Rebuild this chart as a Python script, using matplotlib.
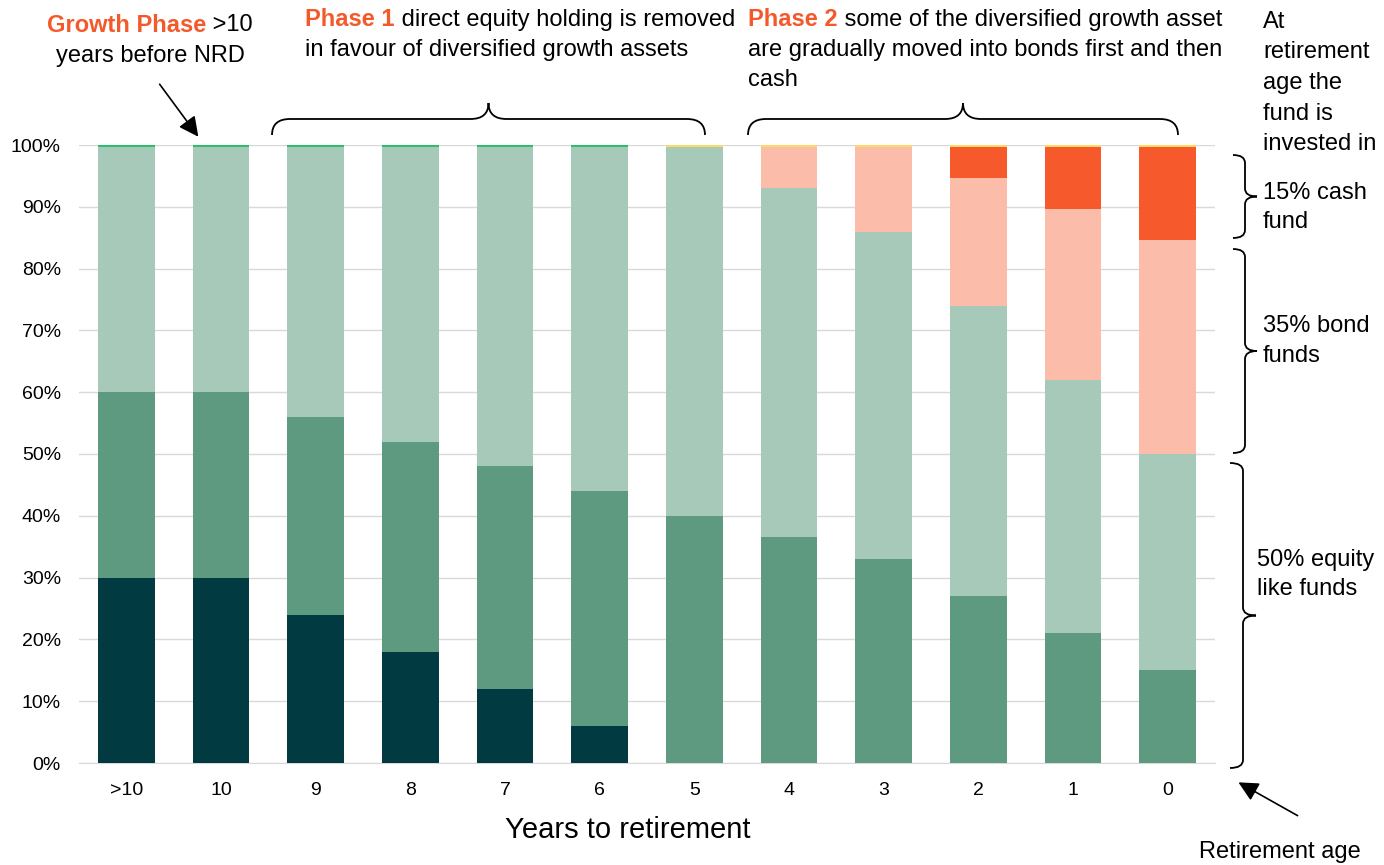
import matplotlib.pyplot as plt
from matplotlib.path import Path
from matplotlib.patches import PathPatch
import numpy as np

plt.rcParams['font.family'] = ['Liberation Sans', 'DejaVu Sans']

# data (percent of fund)
years = ['>10', '10', '9', '8', '7', '6', '5', '4', '3', '2', '1', '0']
direct_equity = [30, 30, 24, 18, 12, 6, 0, 0, 0, 0, 0, 0]
growth_a = [30, 30, 32, 34, 36, 38, 40, 36.5, 33, 27, 21, 15]
growth_b = [39.7, 39.7, 43.7, 47.7, 51.7, 55.7, 59.7, 56.5, 53, 47, 41, 35]
bonds = [0, 0, 0, 0, 0, 0, 0, 6.7, 13.7, 20.7, 27.7, 34.7]
cash = [0, 0, 0, 0, 0, 0, 0, 0, 0, 5, 10, 15]
other_green = [0.3, 0.3, 0.3, 0.3, 0.3, 0.3, 0, 0, 0, 0, 0, 0]
other_yellow = [0, 0, 0, 0, 0, 0, 0.3, 0.3, 0.3, 0.3, 0.3, 0.3]

series = [direct_equity, growth_a, growth_b, bonds, cash, other_green, other_yellow]
colors = ['#023A41', '#5E9A7F', '#A7C9BA', '#FBBDAA', '#F65A2C', '#2DBE6C', '#FFD966']

ORANGE = '#F4592B'
W, H = 1384, 865
FS = 17

fig = plt.figure(figsize=(13.84, 8.65), dpi=100)
ax = fig.add_axes([79 / W, 1 - 763 / H, (1215 - 79) / W, (763 - 145) / H])

x = np.arange(len(years))
bottom = np.zeros(len(years))
for vals, c in zip(series, colors):
    ax.bar(x, vals, width=0.6, bottom=bottom, color=c, zorder=3)
    bottom += np.array(vals)

ax.set_xlim(-0.5, len(years) - 0.5)
ax.set_ylim(0, 100)
ax.set_yticks(np.arange(0, 101, 10))
ax.set_yticklabels([f'{v}%' for v in range(0, 101, 10)])
ax.set_xticks(x)
ax.set_xticklabels(years)
ax.tick_params(length=0, labelsize=14)
ax.tick_params(axis='x', pad=14)
ax.tick_params(axis='y', pad=13)
ax.grid(axis='y', color='#D9D9D9', lw=1, zorder=0)
for s in ['top', 'right', 'left']:
    ax.spines[s].set_visible(False)
ax.spines['bottom'].set_color('#D9D9D9')
ax.set_xlabel('Years to retirement', fontsize=21)
ax.xaxis.set_label_coords((628 - 79) / (1215 - 79), -(830 - 763) / (763 - 145))
ax.xaxis.label.set_va('center')


def px(xp, yp):
    return xp / W, 1 - yp / H


renderer = fig.canvas.get_renderer()


def rich_line(parts, xp, yp, ha='left', size=FS):
    # parts: list of (text, bold?) drawn one after another on the same baseline
    texts = []
    cur = xp
    for s, bold in parts:
        t = fig.text(*px(cur, yp), s, fontsize=size, va='center',
                     fontweight='bold' if bold else 'normal',
                     color=ORANGE if bold else 'black')
        w = t.get_window_extent(renderer).width
        texts.append((t, cur))
        cur += w
    if ha == 'center':
        shift = (cur - xp) / 2
        for t, c0 in texts:
            t.set_position(px(c0 - shift, yp))


rich_line([('Growth Phase', True), (' >10', False)], 150, 25, ha='center')
rich_line([('years before NRD', False)], 150, 56, ha='center')
rich_line([('Phase 1', True), (' direct equity holding is removed', False)], 305, 20)
rich_line([('in favour of diversified growth assets', False)], 305, 50)
rich_line([('Phase 2', True), (' some of the diversified growth asset', False)], 748, 20)
rich_line([('are gradually moved into bonds first and then', False)], 748, 50)
rich_line([('cash', False)], 748, 80)
for i, s in enumerate(['At', 'retirement', 'age the', 'fund is', 'invested in']):
    rich_line([(s, False)], 1263, 22 + 30.5 * i)
rich_line([('15% cash', False)], 1263, 193)
rich_line([('fund', False)], 1263, 222)
rich_line([('35% bond', False)], 1263, 326)
rich_line([('funds', False)], 1263, 356)
rich_line([('50% equity', False)], 1257, 560)
rich_line([('like funds', False)], 1257, 589)
rich_line([('Retirement age', False)], 1280, 852, ha='center')


def brace(p0, p1, a, r, normal):
    # curly brace from p0 to p1 (pixel coords), tip pointing along normal
    p0 = np.array(p0, float)
    p1 = np.array(p1, float)
    L = np.linalg.norm(p1 - p0)
    u = (p1 - p0) / L
    n = np.array(normal, float)
    loc = [(0, 0), (0, a), (r, a), (L / 2 - r, a), (L / 2, a), (L / 2, 2 * a),
           (L / 2, a), (L / 2 + r, a), (L - r, a), (L, a), (L, 0)]
    codes = [Path.MOVETO, Path.CURVE3, Path.CURVE3, Path.LINETO, Path.CURVE3, Path.CURVE3,
             Path.CURVE3, Path.CURVE3, Path.LINETO, Path.CURVE3, Path.CURVE3]
    verts = [px(*(p0 + uu * u + vv * n)) for uu, vv in loc]
    fig.add_artist(PathPatch(Path(verts, codes), fill=False, lw=1.3, ec='black',
                             transform=fig.transFigure))


brace((272, 135), (705, 135), 16, 18, (0, -1))
brace((748, 135), (1178, 135), 16, 18, (0, -1))
brace((1233, 155), (1233, 238), 12, 8, (1, 0))
brace((1233, 249), (1233, 453), 12, 8, (1, 0))
brace((1230, 463), (1230, 768), 13, 8, (1, 0))

ax.annotate('', xy=px(200, 139), xycoords='figure fraction', xytext=px(158, 82),
            textcoords='figure fraction',
            arrowprops=dict(arrowstyle='-|>', color='black', lw=1.2, mutation_scale=30))
ax.annotate('', xy=px(1236, 781), xycoords='figure fraction', xytext=px(1300, 817),
            textcoords='figure fraction',
            arrowprops=dict(arrowstyle='-|>', color='black', lw=1.2, mutation_scale=30))

fig.savefig('out.png', dpi=100)
